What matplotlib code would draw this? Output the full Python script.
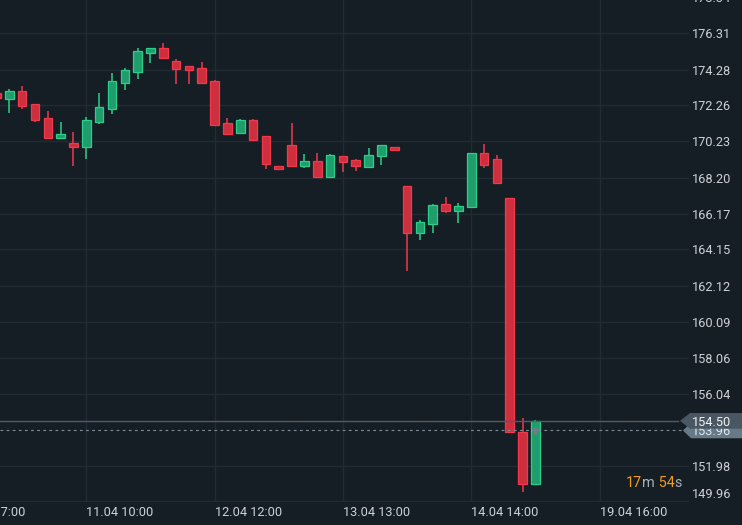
import matplotlib
matplotlib.use("Agg")
import matplotlib.pyplot as plt
from matplotlib.patches import Polygon
from matplotlib.transforms import blended_transform_factory

# ---------------- data ----------------
opens = [172.98, 172.64, 173.07, 172.34, 171.55, 170.44, 170.14, 169.94, 171.34, 172.08,
         173.54, 174.16, 175.23, 175.49, 174.76, 174.48, 174.37, 173.64, 171.27, 170.72,
         171.44, 170.54, 168.85, 170.03, 168.87, 169.13, 168.25, 169.41, 169.19, 168.81,
         169.43, 169.92, 167.72, 165.09, 165.60, 166.71, 166.33, 166.56, 169.58, 169.24,
         167.05, 153.87, 150.96]
highs = [173.05, 173.17, 173.35, 172.36, 171.95, 171.33, 170.76, 171.61, 172.96, 174.09,
         174.37, 175.49, 175.52, 175.78, 174.87, 174.50, 174.71, 173.69, 171.55, 171.50,
         171.50, 170.56, 168.87, 171.27, 169.52, 169.58, 169.52, 169.43, 169.24, 169.86,
         170.05, 169.94, 167.74, 165.81, 166.71, 167.10, 166.77, 169.60, 170.09, 169.47,
         167.07, 154.64, 154.55]
lows = [172.60, 171.85, 172.08, 171.34, 170.42, 170.42, 168.87, 169.26, 171.23, 171.79,
        173.15, 173.76, 174.67, 174.93, 173.48, 173.48, 173.52, 171.15, 170.65, 170.67,
        170.31, 168.70, 168.68, 168.85, 168.75, 168.19, 168.19, 168.53, 168.58, 168.79,
        168.92, 169.75, 162.95, 164.70, 165.09, 166.22, 165.66, 166.54, 168.75, 167.89,
        153.83, 150.51, 150.87]
closes = [172.66, 173.07, 172.24, 171.46, 170.44, 170.65, 169.94, 171.44, 172.17, 173.64,
          174.25, 175.32, 175.49, 174.95, 174.33, 174.27, 173.54, 171.17, 170.67, 171.44,
          170.33, 168.98, 168.70, 168.87, 169.13, 168.25, 169.47, 169.09, 168.87, 169.47,
          170.03, 169.77, 165.09, 165.70, 166.65, 166.33, 166.60, 169.58, 168.92, 167.91,
          153.85, 150.96, 154.50]

y_ticks = [176.31, 174.28, 172.26, 170.23, 168.20, 166.17, 164.15, 162.12,
           160.09, 158.06, 156.04, 151.98, 149.96]
y_top_label = 178.34
x_tick_pos = [7, 17, 27, 37, 47]
x_tick_labels = ["11.04 10:00", "12.04 12:00", "13.04 13:00", "14.04 14:00", "19.04 16:00"]
x_partial_pos = -3
x_partial_label = "10.04 07:00"
last_price = 154.50
bid_price = 153.96
timer_parts = ["17", "m", " 54", "s"]

# ---------------- style ----------------
BG = "#161e25"
GRID = "#222b33"
TXT = "#cdd1d5"
G_FILL, G_EDGE = "#1f9d6c", "#2ccf89"
R_FILL, R_EDGE = "#cd2f3e", "#f2384b"
FONT = ["Roboto", "DejaVu Sans"]
FS = 9.2
plt.rcParams["font.family"] = FONT

W, H = 742, 525
fig = plt.figure(figsize=(W / 100, H / 100), dpi=100, facecolor=BG)
ax_right_px = 689
ax_bottom_px = 501.5
ax = fig.add_axes([0, (H - ax_bottom_px) / H, ax_right_px / W, ax_bottom_px / H])
ax.set_facecolor(BG)
for s in ax.spines.values():
    s.set_visible(False)

step_px = 12.83
x0_px = -3.5
ax.set_xlim((0 - x0_px) / step_px, (ax_right_px - x0_px) / step_px)
ax.set_ylim(149.96, 178.196)

# grid + ticks
ax.set_yticks(y_ticks)
ax.set_yticklabels([f"{v:.2f}" for v in y_ticks])
ax.yaxis.tick_right()
ax.tick_params(axis="y", length=0, pad=1.8, labelsize=FS, labelcolor=TXT)
ax.set_xticks(x_tick_pos)
ax.set_xticklabels(x_tick_labels, ha="left")
ax.tick_params(axis="x", length=0, pad=3.5, labelsize=FS, labelcolor=TXT)
ax.grid(True, color=GRID, linewidth=1.0, zorder=0)
ax.set_axisbelow(True)
ylabs = ax.get_yticklabels()
ylabs[-1].set_va("bottom")

ax.text(x_partial_pos, -4.9 / ax_bottom_px, x_partial_label,
        transform=blended_transform_factory(ax.transData, ax.transAxes),
        ha="left", va="top", fontsize=FS, color=TXT, clip_on=False)
ax.text(1.0 + 2.5 / ax_right_px, y_top_label, f"{y_top_label:.2f}",
        transform=blended_transform_factory(ax.transAxes, ax.transData),
        ha="left", va="center_baseline", fontsize=FS, color=TXT, clip_on=False)

# candles
xs = list(range(len(opens)))
for i in xs:
    o, h, l, c = opens[i], highs[i], lows[i], closes[i]
    up = c >= o
    fill = G_FILL if up else R_FILL
    edge = G_EDGE if up else R_EDGE
    ax.vlines(i, l, h, color=edge, linewidth=1.1, zorder=2)
    ax.bar(i, abs(c - o), bottom=min(o, c), width=0.67, color=fill,
           edgecolor=edge, linewidth=0.9, zorder=3)

# price lines
ax.axhline(last_price, xmin=0, xmax=678 / ax_right_px, color="#4f5c67", linewidth=1.0, zorder=4)
ax.axhline(bid_price, xmin=0, xmax=684 / ax_right_px, color="#7d8c97", linewidth=0.8,
           linestyle=(0, (2.5, 3)), zorder=4)
ax.vlines(xs[-1] - 0.05, bid_price - 0.2, bid_price + 0.2, color="#6f7d88", linewidth=2.4, zorder=5)

# price labels
bt = blended_transform_factory(fig.transFigure, ax.transData)
hh = 0.44
poly2 = Polygon([(683 / W, bid_price), (691 / W, bid_price + hh), (1.0, bid_price + hh),
                 (1.0, bid_price - hh), (691 / W, bid_price - hh)],
                closed=True, transform=bt, facecolor="#667b87", edgecolor="none", clip_on=False, zorder=6)
fig.add_artist(poly2)
fig.text(692 / W, bid_price, f"{bid_price:.2f}", transform=bt, ha="left", va="center_baseline",
         fontsize=FS, color="#e4e8eb", zorder=7)
poly1 = Polygon([(680 / W, last_price), (690 / W, last_price + hh), (1.0, last_price + hh),
                 (1.0, last_price - hh), (690 / W, last_price - hh)],
                closed=True, transform=bt, facecolor="#4a5763", edgecolor="none", clip_on=False, zorder=8)
fig.add_artist(poly1)
fig.text(692 / W, last_price, f"{last_price:.2f}", transform=bt, ha="left", va="center_baseline",
         fontsize=FS, color="#eef0f2", zorder=9)

# timer
colors = ["#f39c1e", "#a7b0b8", "#f39c1e", "#a7b0b8"]
prev = fig.text(626 / W, 1 - 483 / H, timer_parts[0], color=colors[0], fontsize=10.4,
                ha="left", va="center")
for part, col in zip(timer_parts[1:], colors[1:]):
    prev = ax.annotate(part, xy=(1, 0), xycoords=prev, ha="left", va="bottom",
                       color=col, fontsize=10.4, annotation_clip=False)

fig.savefig("out.png", dpi=100, facecolor=BG)
